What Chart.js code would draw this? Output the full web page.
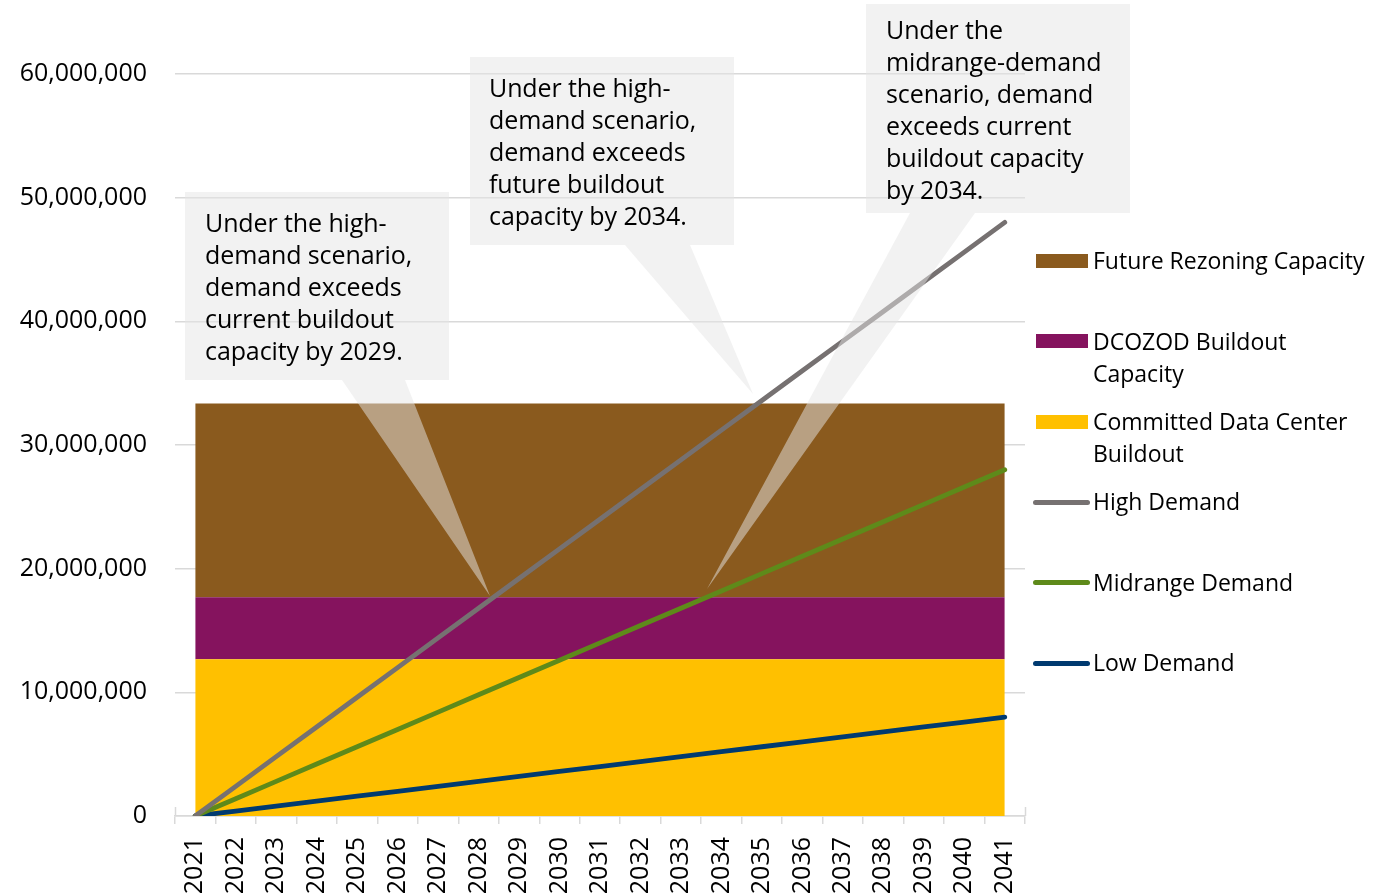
<!DOCTYPE html>
<html>
<head>
<meta charset="utf-8">
<script src="https://cdn.jsdelivr.net/npm/chart.js@4.4.1/dist/chart.umd.min.js"></script>
<style>
  html, body { margin: 0; padding: 0; background: #fff; }
  #wrap { position: relative; width: 1388px; height: 894px; font-family: "Open Sans", sans-serif; color: #000; }
  #chart { position: absolute; left: 0; top: 0; }
  .note { position: absolute; font-size: 25px; line-height: 32px; white-space: nowrap; letter-spacing: -0.1px; }
  .leg { position: absolute; left: 1093px; font-size: 23px; line-height: 32px; white-space: nowrap; }
  .sw { position: absolute; left: 1036px; width: 52px; height: 14px; }
  .ln { position: absolute; left: 1033px; width: 57px; height: 5px; border-radius: 3px; }
</style>
</head>
<body>
<div id="wrap">
  <canvas id="chart" width="1388" height="894"></canvas>

  <div class="note" style="left:205px; top:206px;">Under the high-<br>demand scenario,<br>demand exceeds<br>current buildout<br>capacity by 2029.</div>
  <div class="note" style="left:489px; top:71px;">Under the high-<br>demand scenario,<br>demand exceeds<br>future buildout<br>capacity by 2034.</div>
  <div class="note" style="left:886px; top:13px;">Under the<br>midrange-demand<br>scenario, demand<br>exceeds current<br>buildout capacity<br>by 2034.</div>

  <div class="sw" style="top:254px; background:#8A5A1E;"></div>
  <div class="leg" style="top:244px;">Future Rezoning Capacity</div>
  <div class="sw" style="top:334px; background:#85135E;"></div>
  <div class="leg" style="top:325px;">DCOZOD Buildout<br>Capacity</div>
  <div class="sw" style="top:415px; background:#FFC000;"></div>
  <div class="leg" style="top:405px;">Committed Data Center<br>Buildout</div>
  <div class="ln" style="top:500px; background:#767171;"></div>
  <div class="leg" style="top:485px;">High Demand</div>
  <div class="ln" style="top:580px; background:#5E8A1A;"></div>
  <div class="leg" style="top:566px;">Midrange Demand</div>
  <div class="ln" style="top:661px; background:#003A70;"></div>
  <div class="leg" style="top:646px;">Low Demand</div>
</div>
<script>
// years on the category axis
const years = ['2021','2022','2023','2024','2025','2026','2027','2028','2029','2030',
               '2031','2032','2033','2034','2035','2036','2037','2038','2039','2040','2041'];

// capacity bands (stacked areas)
const committed = [12670000,12670000,12670000,12670000,12670000,12670000,12670000,12670000,12670000,12670000,
                   12670000,12670000,12670000,12670000,12670000,12670000,12670000,12670000,12670000,12670000,12670000];
const dcozod    = [5010000,5010000,5010000,5010000,5010000,5010000,5010000,5010000,5010000,5010000,
                   5010000,5010000,5010000,5010000,5010000,5010000,5010000,5010000,5010000,5010000,5010000];
const rezoning  = [15680000,15680000,15680000,15680000,15680000,15680000,15680000,15680000,15680000,15680000,
                   15680000,15680000,15680000,15680000,15680000,15680000,15680000,15680000,15680000,15680000,15680000];

// demand scenarios
const highDemand = [0,2400000,4800000,7200000,9600000,12000000,14400000,16800000,19200000,21600000,
                    24000000,26400000,28800000,31200000,33600000,36000000,38400000,40800000,43200000,45600000,48000000];
const midDemand  = [0,1400000,2800000,4200000,5600000,7000000,8400000,9800000,11200000,12600000,
                    14000000,15400000,16800000,18200000,19600000,21000000,22400000,23800000,25200000,26600000,28000000];
const lowDemand  = [0,400000,800000,1200000,1600000,2000000,2400000,2800000,3200000,3600000,
                    4000000,4400000,4800000,5200000,5600000,6000000,6400000,6800000,7200000,7600000,8000000];

// callout shapes: box + pointer tip
const callouts = [
  { box: [185, 192, 449, 380], base: [342, 405], tip: [490, 596] },
  { box: [470, 57, 734, 245], base: [625, 690], tip: [753, 394] },
  { box: [866, 4, 1130, 213], base: [910, 975], tip: [707, 589] }
];

const gridColor = '#d9d9d9';

const xTickMarks = {
  id: 'xTickMarks',
  beforeDatasetsDraw(chart) {
    const { ctx, chartArea } = chart;
    const n = years.length;
    const w = (chartArea.right - chartArea.left) / n;
    ctx.save();
    ctx.strokeStyle = gridColor;
    ctx.lineWidth = 1.5;
    for (let i = 0; i <= n; i++) {
      const px = Math.round(chartArea.left + i * w) + 0.5;
      ctx.beginPath();
      ctx.moveTo(px, chartArea.bottom - 9);
      ctx.lineTo(px, chartArea.bottom);
      ctx.stroke();
    }
    ctx.restore();
  }
};

const calloutPlugin = {
  id: 'callouts',
  afterDatasetsDraw(chart) {
    const ctx = chart.ctx;
    ctx.save();
    ctx.fillStyle = 'rgba(229,229,229,0.5)';
    callouts.forEach(c => {
      const [l, t, r, b] = c.box;
      ctx.beginPath();
      ctx.moveTo(l, t);
      ctx.lineTo(r, t);
      ctx.lineTo(r, b);
      ctx.lineTo(c.base[1], b);
      ctx.lineTo(c.tip[0], c.tip[1]);
      ctx.lineTo(c.base[0], b);
      ctx.lineTo(l, b);
      ctx.closePath();
      ctx.fill();
    });
    ctx.restore();
  }
};

const areaStyle = { pointRadius: 0, borderWidth: 0, borderColor: 'rgba(0,0,0,0)', stack: 'cap', order: 10, tension: 0 };
const lineStyle = { pointRadius: 0, borderWidth: 4.8, borderCapStyle: 'round', fill: false, order: 1, tension: 0 };

new Chart(document.getElementById('chart'), {
  type: 'line',
  data: {
    labels: years,
    datasets: [
      { ...areaStyle, label: 'Committed Data Center Buildout', data: committed, backgroundColor: '#FFC000', fill: 'origin' },
      { ...areaStyle, label: 'DCOZOD Buildout Capacity', data: dcozod, backgroundColor: '#85135E', fill: '-1' },
      { ...areaStyle, label: 'Future Rezoning Capacity', data: rezoning, backgroundColor: '#8A5A1E', fill: '-1' },
      { ...lineStyle, label: 'High Demand', data: highDemand, borderColor: '#767171', stack: 'h' },
      { ...lineStyle, label: 'Midrange Demand', data: midDemand, borderColor: '#5E8A1A', stack: 'm' },
      { ...lineStyle, label: 'Low Demand', data: lowDemand, borderColor: '#003A70', stack: 'l' }
    ]
  },
  options: {
    responsive: false,
    animation: false,
    devicePixelRatio: 1,
    layout: { padding: { top: 74, right: 363, left: 0, bottom: 0 } },
    plugins: { legend: { display: false }, tooltip: { enabled: false } },
    scales: {
      x: {
        offset: true,
        afterFit(s) { s.height = 78; },
        grid: { display: true, drawOnChartArea: false, offset: true, tickLength: 8, color: gridColor, lineWidth: 1.5 },
        border: { display: true, color: gridColor, width: 1.5 },
        ticks: { minRotation: 90, maxRotation: 90, autoSkip: false, padding: 13, color: '#000',
                 font: { family: 'Open Sans', size: 25 } }
      },
      y: {
        stacked: true,
        min: 0,
        max: 60000000,
        afterFit(s) { s.width = 175; },
        grid: { color: gridColor, lineWidth: 1.5, drawTicks: false },
        border: { display: false },
        ticks: { stepSize: 10000000, padding: 28, color: '#000',
                 font: { family: 'Open Sans', size: 25 },
                 callback: v => v.toLocaleString('en-US') }
      }
    }
  },
  plugins: [xTickMarks, calloutPlugin]
});
</script>
</body>
</html>
